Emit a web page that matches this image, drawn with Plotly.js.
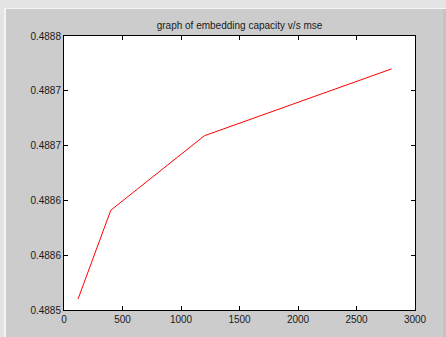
<!DOCTYPE html>
<html>
<head>
<meta charset="utf-8">
<script src="https://cdn.plot.ly/plotly-3.0.1.min.js"></script>
<style>
html,body{margin:0;padding:0;width:446px;height:337px;overflow:hidden;background:#e4e4e4;}
#edge{position:absolute;left:4px;top:8px;width:2px;height:329px;background:#f4f4f4;}
#topline{position:absolute;left:6px;top:8px;width:440px;height:1px;background:#f4f4f4;}
#chart{position:absolute;left:6px;top:9px;width:437px;height:328px;background:#cccccc;}
#rightedge{position:absolute;left:443px;top:9px;width:3px;height:328px;background:#c4c4c4;}
</style>
</head>
<body>
<div id="edge"></div>
<div id="topline"></div>
<div id="rightedge"></div>
<div id="chart"></div>
<script>
var capacity = [120, 400, 1200, 2800];
var mse = [0.48851, 0.488591, 0.488659, 0.48872];
var xTickVals = [0, 500, 1000, 1500, 2000, 2500, 3000];
var yTickVals = [0.4885, 0.48855, 0.4886, 0.48865, 0.4887, 0.48875];
var yTickLabels = ['0.4885', '0.4886', '0.4886', '0.4887', '0.4887', '0.4888'];
var chartTitle = 'graph of embedding capacity v/s mse';

var trace = {
  x: capacity, y: mse, type: 'scatter', mode: 'lines',
  line: {color: '#ff0000', width: 1}, hoverinfo: 'none'
};
var axisCommon = {
  showline: true, linecolor: '#000000', linewidth: 1, mirror: 'allticks',
  ticks: 'inside', ticklen: 4, tickcolor: '#000000', tickwidth: 1,
  showgrid: false, zeroline: false,
  tickfont: {family: 'Liberation Sans, Arial, sans-serif', size: 10, color: '#1a1a1a'}
};
var layout = {
  width: 437, height: 328,
  margin: {l: 58, r: 28, t: 27, b: 27},
  paper_bgcolor: '#cccccc', plot_bgcolor: '#ffffff',
  showlegend: false,
  title: {
    text: chartTitle,
    font: {family: 'Liberation Sans, Arial, sans-serif', size: 10, color: '#1a1a1a'},
    x: 0.5, xref: 'paper', xanchor: 'center',
    y: 1, yref: 'paper', yanchor: 'bottom', pad: {b: 7}
  },
  xaxis: Object.assign({}, axisCommon, {
    range: [0, 3000], tickvals: xTickVals, fixedrange: true
  }),
  yaxis: Object.assign({}, axisCommon, {
    range: [0.4885, 0.48875], tickvals: yTickVals, ticktext: yTickLabels, fixedrange: true
  })
};
Plotly.newPlot('chart', [trace], layout, {displayModeBar: false, staticPlot: true});
</script>
</body>
</html>
